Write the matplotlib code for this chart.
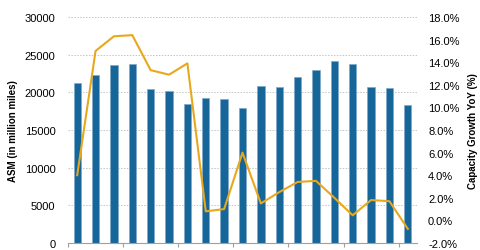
import numpy as np
from matplotlib import pyplot as plt
from matplotlib.ticker import FuncFormatter, MultipleLocator

plt.rcParams['font.family'] = ['Liberation Sans', 'DejaVu Sans']

# ASM per quarter (million miles) and YoY capacity growth (%)
asm = [21300, 22300, 23700, 23800, 20400, 20200, 18400, 19300, 19100, 17900,
       20900, 20700, 22000, 23000, 24200, 23800, 20700, 20600, 18300]
growth = [4.0, 15.0, 16.3, 16.4, 13.3, 12.9, 13.9, 0.8, 1.0, 6.0,
          1.5, 2.5, 3.4, 3.5, 2.0, 0.45, 1.8, 1.7, -0.75]

bar_color = '#17669a'
line_color = '#e8a81c'

x = np.arange(len(asm))

fig = plt.figure(figsize=(4.8, 2.51), dpi=100)
ax = fig.add_axes([0.1417, 0.028, 0.727, 0.9])
ax.bar(x, asm, width=0.4, color=bar_color, edgecolor='#7fa9c9', linewidth=0.5, zorder=2)
ax.set_ylim(0, 30000)
ax.set_xlim(-0.5, len(asm) - 0.5)
ax.yaxis.set_major_locator(MultipleLocator(5000))
ax.grid(axis='y', color='#c4c4c4', linestyle=(0, (1.5, 1.5)), linewidth=0.7, zorder=0)
ax.set_xticks(np.arange(-0.5, len(asm), 3))
ax.set_xticklabels([])
ax.tick_params(axis='x', length=3, color='#a0a0a0', direction='out')
ax.tick_params(axis='y', length=0, labelsize=8, pad=9)
for s in ['top', 'right', 'left']:
    ax.spines[s].set_visible(False)
ax.spines['bottom'].set_color('#a0a0a0')
ax.set_ylabel('ASM (in million miles)', fontsize=7, fontweight='bold', labelpad=5)

ax2 = ax.twinx()
ax2.plot(x, growth, color=line_color, linewidth=1.5, zorder=3)
ax2.set_ylim(-2, 18)
ax2.yaxis.set_major_locator(MultipleLocator(2))
ax2.yaxis.set_major_formatter(FuncFormatter(lambda v, p: f'{v:.1f}%'))
ax2.tick_params(axis='y', length=0, labelsize=8, pad=8)
for s in ax2.spines.values():
    s.set_visible(False)
ax2.set_ylabel('Capacity Growth YoY (%)', fontsize=7, fontweight='bold', labelpad=6)

fig.savefig('out.png', dpi=100)
